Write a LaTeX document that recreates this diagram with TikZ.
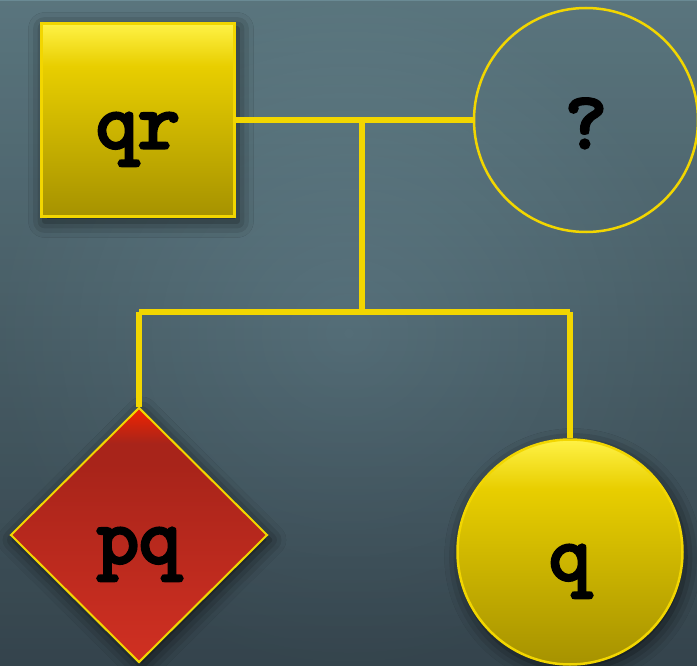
\documentclass[tikz,border=0pt]{standalone}
\usepackage{fontspec}
\setmonofont{lmmono10-regular.otf}[BoldFont=lmmono10-regular.otf, BoldFeatures={FakeBold=4}]
\usetikzlibrary{shapes.geometric,shadows.blur,fadings}

\definecolor{gold}{RGB}{242,214,0}
\definecolor{goldtop}{RGB}{255,242,70}
\definecolor{goldmid}{RGB}{232,206,0}
\definecolor{golddark}{RGB}{166,146,0}
\definecolor{redtop}{RGB}{242,36,0}
\definecolor{reddark}{RGB}{168,36,26}
\definecolor{redbot}{RGB}{208,48,34}
\definecolor{skytop}{RGB}{106,138,148}
\definecolor{skybot}{RGB}{62,80,90}

% shadings run from bottom (25bp) to top (75bp)
\pgfdeclareverticalshading{goldfade}{100bp}{color(0bp)=(golddark); color(25bp)=(golddark);
  color(64bp)=(goldmid); color(75bp)=(goldtop); color(100bp)=(goldtop)}
\pgfdeclareverticalshading{redfade}{100bp}{color(0bp)=(redbot); color(25bp)=(redbot);
  color(64bp)=(reddark); color(68bp)=(reddark); color(75bp)=(redtop); color(100bp)=(redtop)}
\tikzfading[name=vignette, inner color=transparent!100, outer color=transparent!85]

\tikzset{
  label text/.style={font=\fontsize{80}{80}\selectfont\ttfamily\bfseries, text=black,
    text height=62pt, text depth=6pt, inner sep=0pt},
  drop/.style={blur shadow={shadow xshift=3pt, shadow yshift=-5pt, shadow blur radius=16pt, shadow opacity=70}},
  goldbox/.style={label text, rectangle, draw=gold, line width=2.5pt, shading=goldfade, drop},
  goldround/.style={label text, circle, draw=gold, line width=2.5pt, shading=goldfade, drop},
  redbox/.style={label text, diamond, draw=gold, line width=2pt, shading=redfade, drop},
  ghostround/.style={label text, circle, draw=gold, line width=2.5pt},
  link/.style={gold, line width=6pt}
}

\begin{document}
\begin{tikzpicture}[x=1pt, y=-1pt]
  % backdrop
  \useasboundingbox (0,0) rectangle (697,666);
  \shade[top color=skytop, bottom color=skybot] (0,0) rectangle (697,666);
  \fill[black, path fading=vignette] (0,0) rectangle (697,666);

  \node[goldbox, minimum size=193pt] (qr) at (138,120) {qr};
  \node[ghostround, minimum size=224pt] (unk) at (586,120) {?};
  \node[redbox, minimum width=257pt, minimum height=255pt] (pq) at (139,535) {pq};
  \node[goldround, minimum size=225pt] (q) at (570,552) {q};

  \coordinate (mid) at (362,120);
  \coordinate (fork) at (362,312);
  \coordinate (forkL) at (139,312);
  \coordinate (forkR) at (570,312);

  \draw[link] (qr) -- (unk);
  \draw[link] (mid) -- (fork);
  \draw[link] (forkL) -- (forkR);
  \draw[link] (forkL) -- (pq.north);
  \draw[link] (forkR) -- (q.north);
\end{tikzpicture}
\end{document}
